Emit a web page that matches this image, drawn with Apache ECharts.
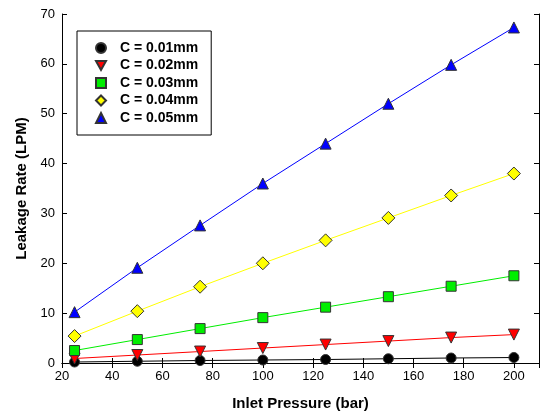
<!DOCTYPE html>
<html>
<head>
<meta charset="utf-8">
<script src="https://cdn.jsdelivr.net/npm/echarts@6/dist/echarts.min.js"></script>
<style>
  html, body { margin: 0; padding: 0; background: #fff; }
  #chart { width: 541px; height: 416px; }
</style>
</head>
<body>
<div id="chart"></div>
<script>
// inlet pressure (bar)
const pressures = [25, 50, 75, 100, 125, 150, 175, 200];
// leakage rate (LPM) per clearance
const c001 = [0.2, 0.35, 0.5, 0.6, 0.7, 0.85, 1.0, 1.1];
const c002 = [0.9, 1.6, 2.3, 3.0, 3.7, 4.4, 5.1, 5.7];
const c003 = [2.5, 4.7, 6.9, 9.1, 11.2, 13.3, 15.4, 17.5];
const c004 = [5.4, 10.4, 15.3, 20.0, 24.6, 29.1, 33.6, 38.0];
const c005 = [10.2, 19.1, 27.6, 36.0, 44.0, 52.0, 59.8, 67.3];
const seriesNames = ['C = 0.01mm', 'C = 0.02mm', 'C = 0.03mm', 'C = 0.04mm', 'C = 0.05mm'];

const font = 'Arial, "Liberation Sans", sans-serif';
const downTri = 'path://M0,0L10,0L5,9Z';

const styles = [
  { color: '#000000', symbol: 'circle', size: 10 },
  { color: '#ff0000', symbol: downTri, size: 11 },
  { color: '#00ee00', symbol: 'rect', size: 10 },
  { color: '#ffff00', symbol: 'diamond', size: 13 },
  { color: '#0000ff', symbol: 'triangle', size: 11 }
];
const values = [c001, c002, c003, c004, c005];

const chart = echarts.init(document.getElementById('chart'));

const series = values.map(function (vals, i) {
  const s = styles[i];
  return {
    name: seriesNames[i],
    type: 'line',
    data: pressures.map(function (p, j) { return [p, vals[j]]; }),
    symbol: s.symbol,
    symbolSize: s.size,
    showAllSymbol: true,
    lineStyle: { color: s.color, width: 1 },
    itemStyle: { color: s.color, borderColor: '#333', borderWidth: 1 },
    z: 2 + i,
    animation: false
  };
});

const tickInside = { show: true, inside: true, length: 5, lineStyle: { color: '#000' } };
const axisLine = { show: true, lineStyle: { color: '#000', width: 1 } };

chart.setOption({
  backgroundColor: '#fff',
  animation: false,
  grid: { left: 62, right: 2, top: 14, bottom: 53 },
  legend: {
    orient: 'vertical',
    left: 77,
    top: 31,
    padding: [10, 13, 10, 18],
    itemGap: 3.5,
    itemWidth: 10,
    itemHeight: 10,
    borderColor: '#000',
    borderWidth: 1,
    backgroundColor: '#fff',
    textStyle: { fontFamily: font, fontSize: 14, fontWeight: 'bold', color: '#000', padding: [0, 0, 0, 9] },
    data: seriesNames.map(function (n, i) {
      return { name: n, icon: styles[i].symbol };
    })
  },
  xAxis: [
    {
      type: 'value', min: 20, max: 210, interval: 20,
      name: 'Inlet Pressure (bar)', nameLocation: 'middle', nameGap: 33,
      nameTextStyle: { fontFamily: font, fontSize: 15, fontWeight: 'bold', color: '#000' },
      axisLine: axisLine, axisTick: tickInside,
      axisLabel: { fontFamily: font, fontSize: 13, color: '#000', margin: 7, showMaxLabel: false },
      splitLine: { show: false }
    },
    {
      type: 'value', position: 'top', min: 20, max: 210, interval: 20,
      axisLine: axisLine, axisTick: tickInside, axisLabel: { show: false }, splitLine: { show: false }
    }
  ],
  yAxis: [
    {
      type: 'value', min: 0, max: 70, interval: 10,
      name: 'Leakage Rate (LPM)', nameLocation: 'middle', nameGap: 32,
      nameTextStyle: { fontFamily: font, fontSize: 15, fontWeight: 'bold', color: '#000' },
      axisLine: axisLine, axisTick: tickInside,
      axisLabel: { fontFamily: font, fontSize: 13, color: '#000', margin: 7 },
      splitLine: { show: false }
    },
    {
      type: 'value', position: 'right', min: 0, max: 70, interval: 10,
      axisLine: axisLine, axisTick: tickInside, axisLabel: { show: false }, splitLine: { show: false }
    }
  ],
  series: series
});
</script>
</body>
</html>
